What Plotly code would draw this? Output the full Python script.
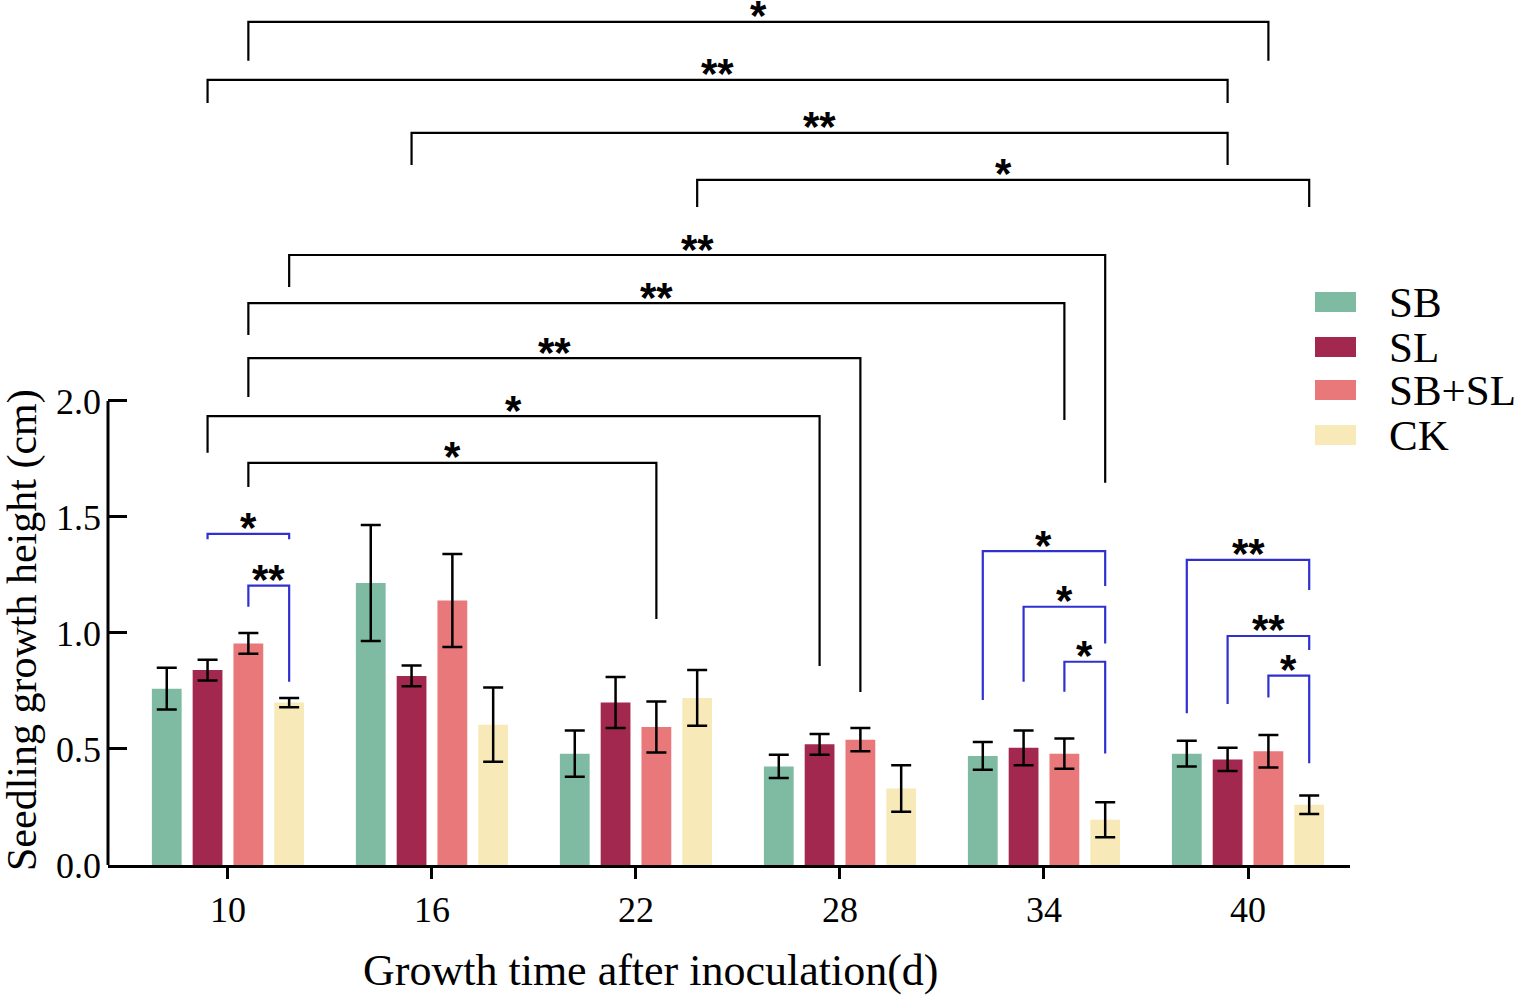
import plotly.graph_objects as go

# ---------------- data ----------------
days = ["10", "16", "22", "28", "34", "40"]
series = ["SB", "SL", "SB+SL", "CK"]
colors = ["#7FBBA3", "#A32850", "#E8787A", "#F8EAB8"]

sb = [0.76, 1.215, 0.48, 0.425, 0.47, 0.48]
sb_err = [0.09, 0.25, 0.10, 0.05, 0.06, 0.055]
sl = [0.84, 0.815, 0.70, 0.52, 0.505, 0.455]
sl_err = [0.045, 0.045, 0.11, 0.045, 0.075, 0.05]
sbsl = [0.955, 1.14, 0.595, 0.54, 0.48, 0.49]
sbsl_err = [0.045, 0.20, 0.11, 0.05, 0.065, 0.07]
ck = [0.70, 0.605, 0.72, 0.33, 0.195, 0.26]
ck_err = [0.02, 0.16, 0.12, 0.10, 0.075, 0.04]

values = [sb, sl, sbsl, ck]
errors = [sb_err, sl_err, sbsl_err, ck_err]

y_tick_vals = [0.0, 0.5, 1.0, 1.5, 2.0]
y_tick_text = ["0.0", "0.5", "1.0", "1.5", "2.0"]

# significance between days: (day_left, series_left, day_right, series_right,
#                             line height, left leg end, right leg end, label)
day_brackets = [
    (0, 2, 5, 2, 3.634, 3.466, 3.466, "*"),
    (0, 1, 5, 1, 3.384, 3.284, 3.284, "**"),
    (1, 1, 5, 1, 3.155, 3.017, 3.017, "**"),
    (2, 3, 5, 3, 2.953, 2.836, 2.836, "*"),
    (0, 3, 4, 3, 2.629, 2.491, 1.647, "**"),
    (0, 2, 4, 2, 2.422, 2.284, 1.918, "**"),
    (0, 2, 3, 2, 2.185, 2.017, 0.746, "**"),
    (0, 1, 3, 1, 1.935, 1.777, 0.858, "*"),
    (0, 2, 2, 2, 1.733, 1.629, 1.060, "*"),
]
# significance within a day vs CK: (day, series_left, series_right,
#                                   line height, left leg end, right leg end, label)
group_brackets = [
    (0, 1, 3, 1.427, 1.404, 1.404, "*"),
    (0, 2, 3, 1.204, 1.113, 0.790, "**"),
    (4, 0, 3, 1.353, 0.711, 1.203, "*"),
    (4, 1, 3, 1.113, 0.790, 0.955, "*"),
    (4, 2, 3, 0.876, 0.747, 0.481, "*"),
    (5, 0, 3, 1.315, 0.654, 1.185, "**"),
    (5, 1, 3, 0.987, 0.694, 0.927, "**"),
    (5, 2, 3, 0.816, 0.722, 0.438, "*"),
]

# ---------------- layout geometry ----------------
W, H = 1524, 1001
ML, MR, MT, MB = 108, 174, 10, 136
PW, PH = W - ML - MR, H - MT - MB
SLOT = 0.2  # width of one bar slot in category units
SERIF = "Liberation Serif, Times New Roman, serif"
STAR_FONT = "Liberation Sans, Arial, sans-serif"


def bx(day, s):
    return day + (s - 1.5) * SLOT


def px_to_paper_x(px):
    return (px - ML) / PW


def px_to_paper_y(py):
    return (H - MB - py) / PH


fig = go.Figure()
xs = list(range(len(days)))
for name, col, vals, errs in zip(series, colors, values, errors):
    fig.add_trace(go.Bar(
        x=xs, y=vals, name=name, marker=dict(color=col, line=dict(width=0)),
        error_y=dict(type="data", array=errs, visible=True, color="black",
                     thickness=2.5, width=10),
        showlegend=False,
    ))

shapes = []
annotations = []


def bracket(xl, xr, ytop, yl, yr, color, label):
    shapes.append(dict(type="path", xref="x", yref="y",
                       path=f"M {xl},{yl} L {xl},{ytop} L {xr},{ytop} L {xr},{yr}",
                       line=dict(color=color, width=2.2)))
    annotations.append(dict(x=(xl + xr) / 2, y=ytop, xref="x", yref="y",
                            text="<b>" + label + "</b>", showarrow=False, yanchor="middle",
                            yshift=6,
                            font=dict(family=STAR_FONT, size=42, color="black")))


for dl, sl_, dr, sr, yt, yle, yre, lab in day_brackets:
    bracket(bx(dl, sl_), bx(dr, sr), yt, yle, yre, "black", lab)
for d, s1, s2, yt, yle, yre, lab in group_brackets:
    bracket(bx(d, s1), bx(d, s2), yt, yle, yre, "#3030D0", lab)

# y axis line only from 0 to 2.0
shapes.append(dict(type="line", xref="paper", yref="y", x0=0, x1=0, y0=-0.006, y1=2.0,
                   line=dict(color="black", width=3)))

# legend
leg_y = [302, 347, 390, 435]
for name, col, py in zip(series, colors, leg_y):
    shapes.append(dict(type="rect", xref="paper", yref="paper",
                       x0=px_to_paper_x(1315), x1=px_to_paper_x(1356),
                       y0=px_to_paper_y(py + 10), y1=px_to_paper_y(py - 10),
                       fillcolor=col, line=dict(width=0)))
    annotations.append(dict(x=px_to_paper_x(1388), y=px_to_paper_y(py), xref="paper", yref="paper",
                            text=name, showarrow=False, xanchor="left", yanchor="middle",
                            borderpad=0,
                            font=dict(family=SERIF, size=43, color="black")))

# axis titles
annotations.append(dict(x=px_to_paper_x(650), y=px_to_paper_y(970), xref="paper", yref="paper",
                        text="Growth time after inoculation(d)", showarrow=False,
                        xanchor="center", yanchor="middle",
                        font=dict(family=SERIF, size=44, color="black")))
annotations.append(dict(x=px_to_paper_x(22), y=px_to_paper_y(630), xref="paper", yref="paper",
                        text="Seedling growth height (cm)", showarrow=False, textangle=-90,
                        xanchor="center", yanchor="middle", borderpad=0,
                        font=dict(family=SERIF, size=42, color="black")))

fig.update_layout(
    width=W, height=H,
    margin=dict(l=ML, r=MR, t=MT, b=MB),
    paper_bgcolor="white", plot_bgcolor="white",
    barmode="group", bargap=0.2, bargroupgap=0.27,
    shapes=shapes, annotations=annotations,
    xaxis=dict(range=[-0.588, 5.5], tickvals=xs, ticktext=days,
               showline=True, linecolor="black", linewidth=3,
               ticks="outside", ticklen=11, tickwidth=3, tickcolor="black",
               showgrid=False, zeroline=False,
               tickfont=dict(family=SERIF, size=36, color="black")),
    yaxis=dict(range=[0, 3.685], tickvals=y_tick_vals, ticktext=y_tick_text,
               showline=False, ticks="inside", ticklen=19, tickwidth=3, tickcolor="black",
               showgrid=False, zeroline=False, ticklabelstandoff=6,
               tickfont=dict(family=SERIF, size=36, color="black")),
)

fig.write_html("out.html")
